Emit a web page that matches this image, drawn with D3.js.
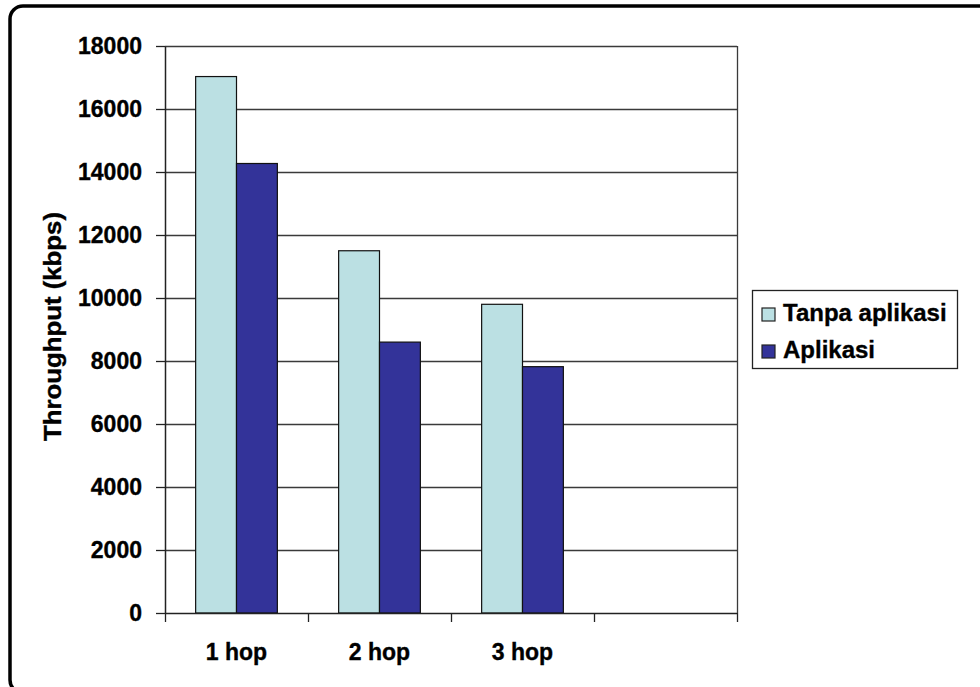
<!DOCTYPE html>
<html>
<head>
<meta charset="utf-8">
<script src="https://cdn.jsdelivr.net/npm/d3@7/dist/d3.min.js"></script>
<style>
  html, body { margin: 0; padding: 0; background: #fff; }
  svg { display: block; }
  text { font-family: "Liberation Sans", Arial, sans-serif; font-weight: bold; fill: #000; stroke: #000; stroke-width: 0.35px; }
</style>
</head>
<body>
<svg id="chart" width="980" height="687"></svg>
<script>
// Throughput per hop count, with and without the application
const categories = ["1 hop", "2 hop", "3 hop", ""];
const seriesNames = ["Tanpa aplikasi", "Aplikasi"];
const tanpaAplikasi = [17030, 11500, 9800];
const aplikasi = [14270, 8600, 7820];
const yTicks = [0, 2000, 4000, 6000, 8000, 10000, 12000, 14000, 16000, 18000];
const seriesColors = ["#BBE0E3", "#333399"];

const svg = d3.select("#chart");

// Outer chart frame (rounded, running past the right and bottom edges)
svg.append("rect")
  .attr("x", 10).attr("y", 6)
  .attr("width", 1000).attr("height", 687)
  .attr("rx", 13).attr("ry", 13)
  .attr("fill", "#fff")
  .attr("stroke", "#000")
  .attr("stroke-width", 3.5);

const plot = { left: 165, top: 46, right: 737, bottom: 613 };

const x = d3.scaleBand()
  .domain(d3.range(categories.length))
  .range([plot.left, plot.right])
  .paddingInner(0).paddingOuter(0);

const y = d3.scaleLinear()
  .domain([0, 18000])
  .range([plot.bottom, plot.top]);

// Bars sit in the slot with a 150% gap width: slot = 3.5 bar widths
const barW = x.bandwidth() / 3.5;
const sub = d3.scaleBand()
  .domain(d3.range(seriesNames.length))
  .range([0.75 * barW, 2.75 * barW])
  .padding(0);

// Horizontal gridlines
svg.append("g")
  .selectAll("line")
  .data(yTicks.filter(v => v > 0))
  .join("line")
  .attr("x1", plot.left).attr("x2", plot.right)
  .attr("y1", d => Math.round(y(d)) + 0.5).attr("y2", d => Math.round(y(d)) + 0.5)
  .attr("stroke", "#3a3a3a").attr("stroke-width", 1.3);

// Right edge of the plot area
svg.append("line")
  .attr("x1", plot.right + 0.5).attr("x2", plot.right + 0.5)
  .attr("y1", plot.top).attr("y2", plot.bottom)
  .attr("stroke", "#3a3a3a").attr("stroke-width", 1.3);

// Bars
const seriesData = [tanpaAplikasi, aplikasi];
seriesData.forEach((vals, si) => {
  svg.append("g")
    .selectAll("rect")
    .data(vals)
    .join("rect")
    .attr("x", (d, i) => x(i) + sub(si))
    .attr("y", d => y(d))
    .attr("width", sub.bandwidth())
    .attr("height", d => y(0) - y(d))
    .attr("fill", seriesColors[si])
    .attr("stroke", "#111")
    .attr("stroke-width", 1.2);
});

// Y axis
const yAxis = svg.append("g")
  .attr("transform", `translate(${plot.left},0)`)
  .call(d3.axisLeft(y).tickValues(yTicks).tickFormat(d3.format("d"))
    .tickSize(9).tickPadding(14).tickSizeOuter(0));
yAxis.select(".domain").attr("stroke", "#222").attr("stroke-width", 1.5);
yAxis.selectAll(".tick line").attr("stroke", "#222").attr("stroke-width", 1.3);
yAxis.selectAll(".tick text")
  .style("font-family", "'Liberation Sans', Arial, sans-serif")
  .style("font-weight", "bold")
  .style("font-size", "23px")
  .attr("fill", "#000");

// X axis: ticks mark the slot boundaries, labels sit at slot centres
const xAxisG = svg.append("g").attr("transform", `translate(0,${plot.bottom})`);
xAxisG.append("line")
  .attr("x1", plot.left).attr("x2", plot.right)
  .attr("y1", 0.5).attr("y2", 0.5)
  .attr("stroke", "#222").attr("stroke-width", 1.5);
xAxisG.selectAll("line.tick")
  .data(d3.range(categories.length + 1))
  .join("line")
  .attr("class", "tick")
  .attr("x1", i => (i < categories.length ? x(i) : plot.right) + 0.5)
  .attr("x2", i => (i < categories.length ? x(i) : plot.right) + 0.5)
  .attr("y1", 0).attr("y2", 9)
  .attr("stroke", "#222").attr("stroke-width", 1.3);
xAxisG.selectAll("text")
  .data(categories)
  .join("text")
  .attr("x", (d, i) => x(i) + x.bandwidth() / 2)
  .attr("y", 47)
  .attr("text-anchor", "middle")
  .style("font-size", "23px")
  .text(d => d);

// Y axis title
svg.append("text")
  .attr("transform", `translate(61,${(plot.top + plot.bottom) / 2 - 3}) rotate(-90)`)
  .attr("text-anchor", "middle")
  .attr("textLength", 229)
  .attr("lengthAdjust", "spacingAndGlyphs")
  .style("font-size", "23px")
  .text("Throughput (kbps)");

// Legend
const legend = svg.append("g");
legend.append("rect")
  .attr("x", 752.5).attr("y", 290.5)
  .attr("width", 205).attr("height", 78)
  .attr("fill", "#fff")
  .attr("stroke", "#222").attr("stroke-width", 1.3);
seriesNames.forEach((name, i) => {
  const rowY = 308 + i * 37;
  legend.append("rect")
    .attr("x", 762).attr("y", rowY)
    .attr("width", 13).attr("height", 13)
    .attr("fill", seriesColors[i])
    .attr("stroke", "#222").attr("stroke-width", 1.2);
  legend.append("text")
    .attr("x", 783).attr("y", rowY + 13)
    .style("font-size", "24px")
    .text(name);
});
</script>
</body>
</html>
